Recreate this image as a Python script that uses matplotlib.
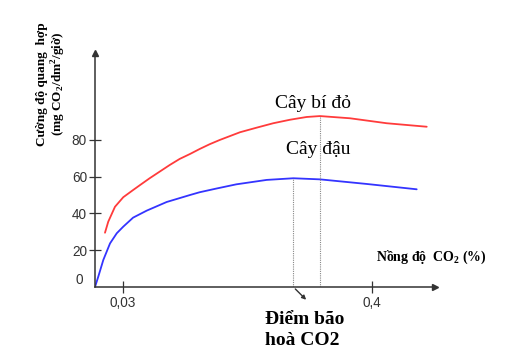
import numpy as np
import matplotlib
matplotlib.use("Agg")
import matplotlib.pyplot as plt
from matplotlib.scale import FuncScale
from matplotlib.transforms import ScaledTranslation

# ---- data (schematic) ----
blue_x = [0, 0.0035, 0.0089, 0.0161, 0.0233, 0.0304, 0.0450, 0.0652, 0.0949, 0.1296,
          0.1439, 0.1687, 0.1984, 0.2435, 0.2831, 0.3227, 0.3921, 0.4664]
blue_y = [0, 5.6, 14.7, 23.7, 29.2, 32.8, 37.7, 41.5, 46.2, 50.0,
          51.5, 53.5, 55.8, 58.2, 59.1, 58.5, 56.0, 53.1]
red_x = [0.0107, 0.0142, 0.0214, 0.0304, 0.0450, 0.0553, 0.0696, 0.0845, 0.0994,
         0.1142, 0.1296, 0.1439, 0.1588, 0.1737, 0.2038, 0.2286, 0.2533, 0.2781,
         0.3029, 0.3227, 0.3673, 0.4218, 0.4813]
red_y = [29.5, 35.5, 43.6, 48.8, 52.7, 55.4, 59.1, 62.7, 66.3,
         69.6, 72.3, 75.0, 77.6, 79.9, 84.1, 86.6, 89.0, 90.9,
         92.4, 92.9, 91.7, 89.0, 87.1]
sat_x = [0.2831, 0.3227]
sat_y = [59.1, 92.9]
x_ticks = [0.03, 0.4]
x_ticklabels = ["0,03", "0,4"]
y_ticks = [0, 20, 40, 60, 80]
y_ticklabels = ["0", "20", "40", "60", "80"]
label_red = "Cây bí đỏ"
label_blue = "Cây đậu"
xlabel = "Nồng độ  CO$_\\mathregular{2}$ (%)"
ylabel = "Cường độ quang  hợp\n(mg CO$_\\mathregular{2}$/dm$^\\mathregular{2}$/giờ)"
note = "Điểm bão\nhoà CO2"

serif = ["Liberation Serif", "DejaVu Serif"]
sans = ["Liberation Sans", "DejaVu Sans"]
axc = "#333333"

# schematic (piecewise-linear) x axis
def fwd(x):
    x = np.asarray(x, dtype=float)
    return np.where(x < 0.03, x * 28 / 0.03, 28 + (x - 0.03) * 249 / 0.37)

def inv(p):
    p = np.asarray(p, dtype=float)
    return np.where(p < 28, p * 0.03 / 28, 0.03 + (p - 28) * 0.37 / 249)

fig = plt.figure(figsize=(5.26, 3.54), dpi=100)
ax = fig.add_axes([95 / 526, 67 / 354, 340 / 526, 234 / 354])
ax.set_xscale(FuncScale(ax, (fwd, inv)))
ax.set_xlim(0, float(inv(340)))
ax.set_ylim(0, 234 / 1.84)

ax.plot(red_x, red_y, color="#ff3b3b", lw=1.3, solid_capstyle="round",
        solid_joinstyle="round")
ax.plot(blue_x, blue_y, color="#3434ff", lw=1.3, solid_capstyle="round",
        solid_joinstyle="round")
ax.vlines(sat_x, 0, sat_y, colors="#888888", linestyles=(0, (1, 1)), lw=0.8)

for s in ["top", "right"]:
    ax.spines[s].set_visible(False)
for s in ["left", "bottom"]:
    ax.spines[s].set_color(axc)
    ax.spines[s].set_linewidth(1.1)
ax.plot(1, 0, ">", color=axc, ms=4, transform=ax.transAxes, clip_on=False)
ax.plot(0, 1, "^", color=axc, ms=4, transform=ax.transAxes, clip_on=False)

ax.set_xticks(x_ticks)
ax.set_xticklabels(x_ticklabels)
ax.set_yticks(y_ticks)
ax.set_yticklabels(y_ticklabels)
ax.minorticks_off()
ax.tick_params(axis="both", direction="inout", length=8.6, width=0.9, color=axc,
               labelsize=9.8, labelcolor="#333333")
ax.tick_params(axis="y", pad=1.5)
ax.tick_params(axis="x", pad=2)
for lab in ax.get_xticklabels() + ax.get_yticklabels():
    lab.set_family(sans)
t0 = ax.yaxis.get_major_ticks()[0]
t0.tick1line.set_visible(False)
t0.label1.set_transform(t0.label1.get_transform() +
                        ScaledTranslation(-3 / 72, 6 / 72, fig.dpi_scale_trans))

ax.text(0.3123, 99.5, label_red, ha="center", va="center", family=serif, fontsize=14)
ax.text(0.3198, 74.5, label_blue, ha="center", va="center", family=serif, fontsize=14)

fig.text(376 / 526, 1 - 257 / 354, xlabel, ha="left", va="center", family=serif,
         fontsize=10, fontweight="bold")
fig.text(52 / 526, 1 - 84 / 354, ylabel, ha="center", va="center", rotation=90,
         family=serif, fontsize=9.5, fontweight="bold", linespacing=1.2,
         multialignment="center")

ax.annotate("", xy=(0.2831 + 0.022, -8), xytext=(0.2831, 0), xycoords="data",
            arrowprops=dict(arrowstyle="-|>", color=axc, lw=1, mutation_scale=6),
            annotation_clip=False)
fig.text(265 / 526, 1 - 330 / 354, note, ha="left", va="center", family=serif,
         fontsize=14, fontweight="bold", linespacing=1.3)

fig.savefig("out.png", dpi=100)
